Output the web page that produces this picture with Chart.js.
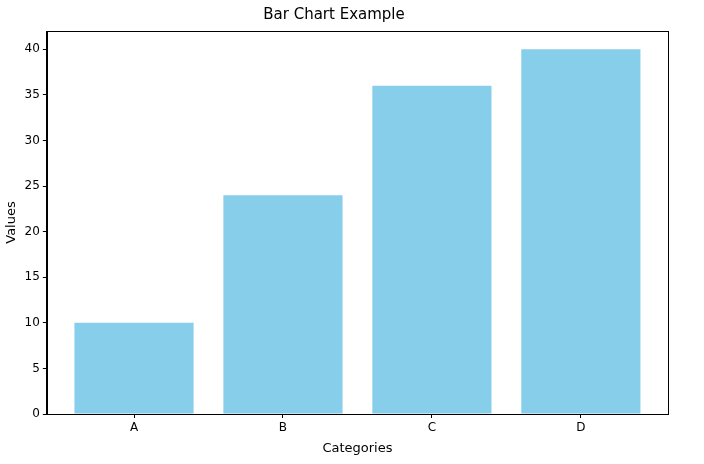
<!DOCTYPE html>
<html>
<head>
<script src="https://cdn.jsdelivr.net/npm/chart.js@4"></script>
<style>body{margin:0;background:#fff}#wrap{width:704px;height:464px}</style>
</head>
<body>
<div id="wrap"><canvas id="c"></canvas></div>
<script>
// Chart data
var categories = ['A', 'B', 'C', 'D'];
var values = [10, 24, 36, 40];
var yTicks = [0, 5, 10, 15, 20, 25, 30, 35, 40];

var points = categories.map(function (c, i) { return { x: i, y: values[i] }; });

// Frame around plot area
var frame = {
    id: 'frame',
    afterDraw: function (chart) {
        var a = chart.chartArea, ctx = chart.ctx;
        ctx.save();
        ctx.strokeStyle = '#000';
        ctx.lineWidth = 1;
        ctx.strokeRect(Math.round(a.left) + 0.5, Math.round(a.top) + 0.5,
            Math.round(a.right - a.left), Math.round(a.bottom - a.top));
        ctx.restore();
    }
};

Chart.defaults.font.family = 'DejaVu Sans';
Chart.defaults.color = '#000';

new Chart(document.getElementById('c'), {
    type: 'bar',
    data: {
        datasets: [{
            data: points,
            backgroundColor: '#87ceeb',
            borderWidth: 0,
            barPercentage: 0.8,
            categoryPercentage: 1
        }]
    },
    options: {
        responsive: true,
        maintainAspectRatio: false,
        animation: false,
        layout: { padding: { left: 0, right: 36, top: 0, bottom: 4 } },
        plugins: {
            legend: { display: false },
            tooltip: { enabled: false },
            title: { display: true, text: 'Bar Chart Example', font: { size: 15, weight: 'normal' }, padding: { top: 6, bottom: 7 } }
        },
        scales: {
            x: {
                type: 'linear',
                offset: false,
                min: -0.585, max: 3.585,
                afterBuildTicks: function (s) { s.ticks = categories.map(function (c, i) { return { value: i }; }); },
                ticks: { callback: function (v) { return categories[v]; }, font: { size: 12 }, maxRotation: 0 },
                grid: { drawOnChartArea: false, offset: false, tickLength: 4, color: '#000' },
                border: { color: '#000' },
                title: { display: true, text: 'Categories', font: { size: 13 }, padding: { top: 2 } }
            },
            y: {
                min: 0, max: 42,
                afterBuildTicks: function (s) { s.ticks = yTicks.map(function (v) { return { value: v }; }); },
                ticks: { font: { size: 12 } },
                grid: { drawOnChartArea: false, tickLength: 4, color: '#000' },
                border: { color: '#000' },
                title: { display: true, text: 'Values', font: { size: 13 }, padding: { bottom: 2 } }
            }
        }
    },
    plugins: [frame]
});
</script>
</body>
</html>
